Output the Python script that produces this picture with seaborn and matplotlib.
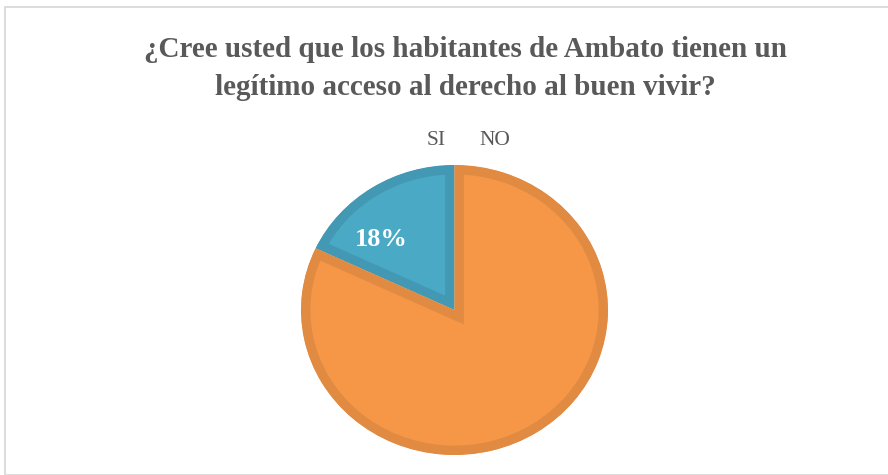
import numpy as np
import matplotlib
matplotlib.use("Agg")
import matplotlib.pyplot as plt
import seaborn as sns
from matplotlib.patches import Rectangle

sns.set_theme(style="white")
plt.rcParams['font.family'] = ['Liberation Serif', 'DejaVu Serif']

title_lines = ["¿Cree usted que los habitantes de Ambato tienen un",
               "legítimo acceso al derecho al buen vivir?"]
labels = ["SI", "NO"]
values = [18, 82]
fill_colors = ["#4AAAC5", "#F59746"]
edge_colors = ["#4399B3", "#E08A42"]

W, H = 888, 475
fig = plt.figure(figsize=(W / 100, H / 100), dpi=100)
fig.patch.set_facecolor("white")

# outer frame
fig.add_artist(Rectangle((4.5 / W, 0), (W - 4.5) / W + 0.01, (H - 6.5) / H,
                         transform=fig.transFigure, fill=False,
                         edgecolor="#D9D9D9", linewidth=1.3, clip_on=False))

# pie axes (slightly elliptical like the reference)
cx, cy = 454.5, H - 310
rx, ry = 153.5, 145
pad = 1.1
ax = fig.add_axes([(cx - rx * pad) / W, (cy - ry * pad) / H,
                   2 * rx * pad / W, 2 * ry * pad / H])
wedges, _ = ax.pie(values, colors=fill_colors, startangle=90, counterclock=True,
                   wedgeprops=dict(linewidth=13.5), radius=1.0)
ax.set_aspect('auto')
ax.set_xlim(-pad, pad)
ax.set_ylim(-pad, pad)
ax.axis('off')
for w, ec in zip(wedges, edge_colors):
    w.set_edgecolor(ec)
    w.set_clip_on(True)
    w.set_clip_path(w)

# percentage label for SI slice only
total = sum(values)
w0 = wedges[0]
a = np.deg2rad(w0.theta1 + 0.69 * (w0.theta2 - w0.theta1))
ax.text(0.68 * np.cos(a), 0.68 * np.sin(a), f"{values[0] / total * 100:.0f}%",
        ha="center", va="center", color="white", fontsize=19, fontweight="bold",
        family=['Liberation Serif', 'DejaVu Serif'])

# title (two lines)
for line, base in zip(title_lines, [57, 95]):
    fig.text(465.5 / W, 1 - base / H, line, ha="center", va="baseline",
             fontsize=21, fontweight="bold", color="#595959",
             family=['Liberation Serif', 'DejaVu Serif'])

# legend labels (no markers, as in reference)
for lab, x in zip(labels, [436, 495]):
    fig.text(x / W, 1 - 145 / H, lab, ha="center", va="baseline", fontsize=15.5,
             color="#595959", family=['Liberation Serif', 'DejaVu Serif'])

fig.savefig("out.png", dpi=100, facecolor="white")
